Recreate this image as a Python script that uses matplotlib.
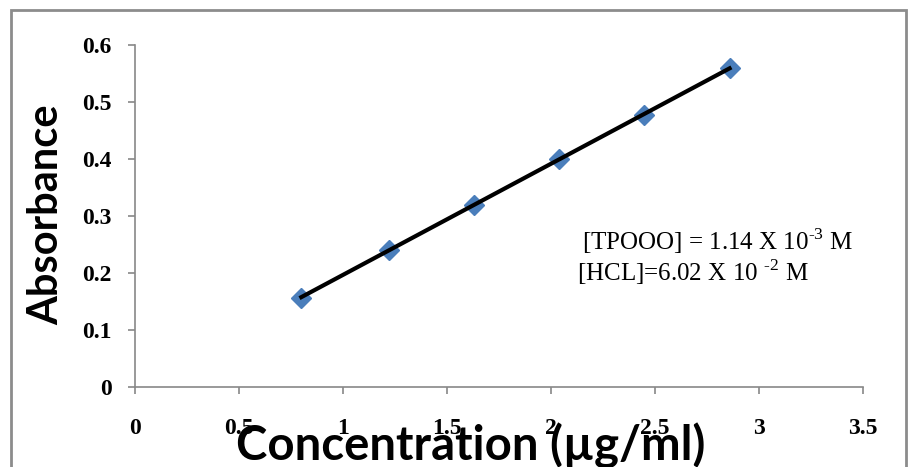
import numpy as np
from matplotlib import pyplot as plt
from matplotlib.patches import Rectangle

# datos
conc = [0.80, 1.22, 1.63, 2.04, 2.45, 2.86]
absorb = [0.157, 0.240, 0.320, 0.400, 0.477, 0.560]
xticks = [0, 0.5, 1, 1.5, 2, 2.5, 3, 3.5]
yticks = [0, 0.1, 0.2, 0.3, 0.4, 0.5, 0.6]

plt.rcParams['mathtext.fontset'] = 'custom'
plt.rcParams['mathtext.rm'] = 'Liberation Serif'

fig = plt.figure(figsize=(9.09, 4.67), dpi=100)
ax = fig.add_axes([0.1485, 0.1713, 0.8005, 0.7323])

# recta de ajuste
m, b = np.polyfit(conc, absorb, 1)
xl = np.array([min(conc), max(conc)])
ax.plot(conc, absorb, 'D', color='#4a7ebb', markersize=10, zorder=2)
ax.plot(xl, m*xl + b, color='black', lw=3, zorder=3)

ax.set_xlim(0, 3.5)
ax.set_ylim(0, 0.6)
ax.set_xticks(xticks)
ax.set_yticks(yticks)
ax.set_xticklabels([f'{v:g}' for v in xticks], fontfamily='Liberation Serif',
                   fontweight='bold', fontsize=17)
ax.set_yticklabels([f'{v:g}' for v in yticks], fontfamily='Liberation Serif',
                   fontweight='bold', fontsize=17)
for s in ['top', 'right']:
    ax.spines[s].set_visible(False)
for s in ['left', 'bottom']:
    ax.spines[s].set_color('#888888')
    ax.spines[s].set_linewidth(1.2)
ax.tick_params(axis='both', direction='out', length=5, width=1.2, color='#888888')
ax.tick_params(axis='x', pad=17)
ax.tick_params(axis='y', pad=12)

ax.text(0.615, 0.40, r'[TPOOO] = 1.14 X 10$^{\text{-3}}$ M', transform=ax.transAxes,
        fontfamily='Liberation Serif', fontsize=18, va='baseline')
ax.text(0.607, 0.31, r'[HCL]=6.02 X 10 $^{\text{-2}}$ M', transform=ax.transAxes,
        fontfamily='Liberation Serif', fontsize=18, va='baseline')

fig.text(0.518, 0.013, 'Concentration (µg/ml)', ha='center', va='baseline',
         fontfamily='Lato', fontweight='bold', fontsize=34)
fig.text(0.051, 0.54, 'Absorbance', ha='center', va='center', rotation=90,
         fontfamily='Lato', fontweight='bold', fontsize=30)

# marco exterior
fig.patches.append(Rectangle((0.012, -0.05), 0.985, 1.028, transform=fig.transFigure,
                             fill=False, edgecolor='#8c8c8c', lw=2))

fig.savefig('out.png', dpi=100)
